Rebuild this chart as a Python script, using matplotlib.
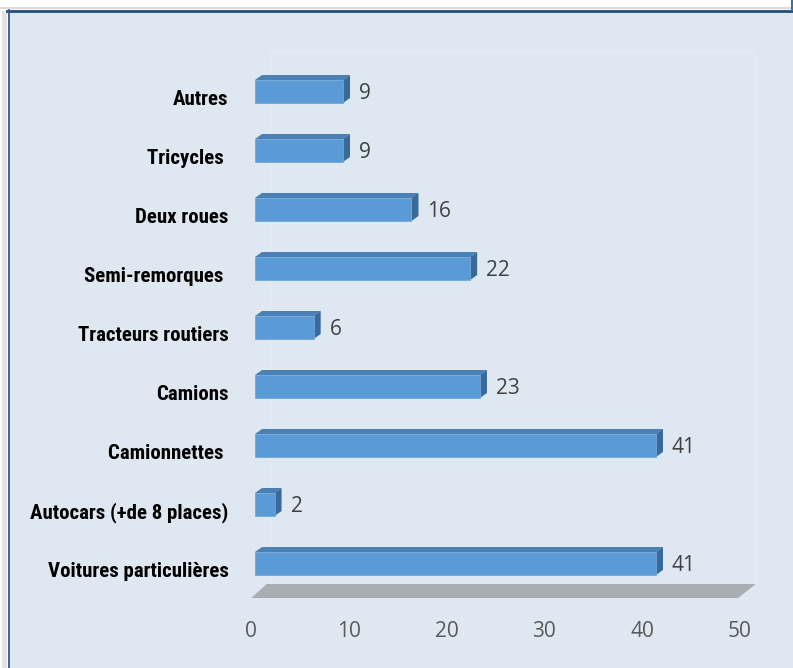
import numpy as np
import matplotlib
matplotlib.use("Agg")
import matplotlib.pyplot as plt
from matplotlib.patches import Polygon, Rectangle
from matplotlib.lines import Line2D
import matplotlib.transforms as mtransforms
from matplotlib import font_manager

# données (du bas vers le haut)
categories = ["Voitures particulières", "Autocars (+de 8 places)", "Camionnettes ",
              "Camions", "Tracteurs routiers", "Semi-remorques ", "Deux roues",
              "Tricycles ", "Autres"]
values = [41, 2, 41, 23, 6, 22, 16, 9, 9]
xticks = [0, 10, 20, 30, 40, 50]

BG = "#dfe8f1"
FRONT = "#5b9bd5"
TOP = "#4a80b4"
SIDE = "#3c6a98"
FLOOR = "#a9aeb3"

# police étroite si dispo
names = {f.name for f in font_manager.fontManager.ttflist}
cond = [n for n in ["Roboto Condensed", "Liberation Sans Narrow", "DejaVu Sans Condensed",
                    "Open Sans Condensed", "Noto Sans Condensed", "Roboto"] if n in names]
cat_font = cond[0] if cond else "DejaVu Sans"

W, H = 793, 668
fig = plt.figure(figsize=(W / 100, H / 100), dpi=100, facecolor="white")

# cadre
fig.patches.append(Rectangle((8 / W, 0), 1 - 8 / W, 1 - 11 / H, transform=fig.transFigure,
                             facecolor=BG, edgecolor="none", zorder=-2))
fig.patches.append(Rectangle((2 / W, 0), 5 / W, 1 - 11 / H, transform=fig.transFigure,
                             facecolor="#e4e4e4", edgecolor="none", zorder=-2))
fig.lines.append(Line2D([0, 1], [1 - 8 / H] * 2, transform=fig.transFigure,
                        color="#d6d6d6", lw=1.2, zorder=-1))
fig.lines.append(Line2D([7 / W, 1], [1 - 10.5 / H] * 2, transform=fig.transFigure,
                        color="#1f4e79", lw=2.0, zorder=-1))
fig.lines.append(Line2D([8.5 / W] * 2, [0, 1 - 10 / H], transform=fig.transFigure,
                        color="#2f5d8c", lw=1.3, zorder=-1))
fig.lines.append(Line2D([791.5 / W] * 2, [1 - 10 / H, 1], transform=fig.transFigure,
                        color="#2e75b6", lw=1.5, zorder=-1))

# axes : 0 -> px 255, 9.78 px par unité ; catégorie k -> px 563.5 - 59 k
PXU, PXC = 9.78, 59.0
ax_l, ax_r, ax_t, ax_b = 230, 780, 40, 600
ax = fig.add_axes([ax_l / W, 1 - ax_b / H, (ax_r - ax_l) / W, (ax_b - ax_t) / H])
ax.set_facecolor("none")
ax.set_xlim((ax_l - 255) / PXU, (ax_r - 255) / PXU)
ax.set_ylim(-(ax_b - 563.5) / PXC, (563.5 - ax_t) / PXC)
for s in ax.spines.values():
    s.set_visible(False)

h = 23 / PXC
dx, dy = 7 / PXU, 5 / PXC
y = np.arange(len(categories))

# paroi arrière (très discrète)
fdx, fdy = 1.6, 14 / PXC
floor_y = -0.585
ax.add_patch(Rectangle((fdx - 0.1, floor_y + fdy), 51.2 - fdx, ax.get_ylim()[1] - 0.2 - floor_y - fdy,
                       facecolor="none", edgecolor="#e5edf5", lw=1.0, zorder=1))

# sol
ax.add_patch(Polygon([(-0.4, floor_y), (49.4, floor_y), (49.4 + 1.8, floor_y + fdy), (-0.4 + fdx, floor_y + fdy)],
                     closed=True, facecolor=FLOOR, edgecolor="none", zorder=2))

# barres 3D
ax.barh(y, values, height=h, color=FRONT, edgecolor="#6fa8dc", lw=0.6, zorder=4)
off = mtransforms.offset_copy(ax.transData, fig=fig, x=16, y=-2, units="dots")
for k, v in zip(y, values):
    yt = k + h / 2
    yb = k - h / 2
    ax.add_patch(Polygon([(0, yt), (v, yt), (v + dx, yt + dy), (dx, yt + dy)],
                         closed=True, facecolor=TOP, edgecolor="none", zorder=3))
    ax.add_patch(Polygon([(v, yb), (v + dx, yb + dy), (v + dx, yt + dy), (v, yt)],
                         closed=True, facecolor=SIDE, edgecolor="none", zorder=3))
    ax.text(v, k, str(v), transform=off, ha="left", va="center",
            fontsize=15, family="Open Sans", color="#404040")

# graduations
ax.set_xticks(xticks)
ax.set_xticklabels([str(t) for t in xticks], fontsize=15, family="Open Sans", color="#595959")
ax.tick_params(axis="x", length=0, pad=15)
shift_x = mtransforms.ScaledTranslation(-4 / 100, 0, fig.dpi_scale_trans)
for lab in ax.get_xticklabels():
    lab.set_transform(lab.get_transform() + shift_x)

ax.set_yticks(y)
ax.set_yticklabels(categories, fontsize=15, fontweight="bold",
                   family=[cat_font, "DejaVu Sans"], color="black")
ax.tick_params(axis="y", length=0, pad=1)
shift_y = mtransforms.ScaledTranslation(0, -6 / 100, fig.dpi_scale_trans)
for lab in ax.get_yticklabels():
    lab.set_transform(lab.get_transform() + shift_y)

fig.savefig("out.png", dpi=100, facecolor="white")
